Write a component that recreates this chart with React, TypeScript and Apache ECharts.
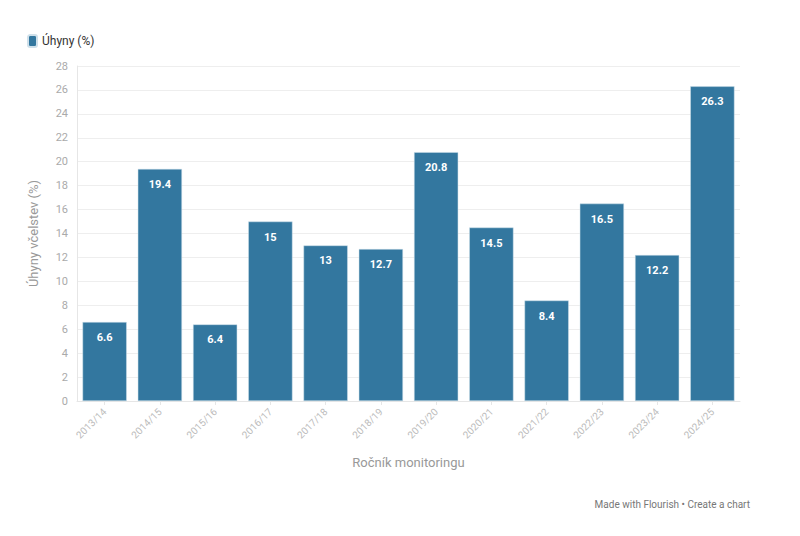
import React, { useEffect, useRef } from "react";
import * as echarts from "echarts";

const categories = ["2013/14", "2014/15", "2015/16", "2016/17", "2017/18", "2018/19", "2019/20", "2020/21", "2021/22", "2022/23", "2023/24", "2024/25"];
const losses = [6.6, 19.4, 6.4, 15, 13, 12.7, 20.8, 14.5, 8.4, 16.5, 12.2, 26.3];
const seriesName = "Úhyny (%)";

export default function App() {
  const ref = useRef<HTMLDivElement>(null);
  useEffect(() => {
    const chart = echarts.init(ref.current!, null, { renderer: "svg" });
    const font = "Roboto, 'Noto Sans', sans-serif";
    chart.setOption({
      animation: false,
      textStyle: { fontFamily: font },
      legend: {
        left: 22,
        top: 29,
        itemWidth: 9,
        itemHeight: 12,
        itemGap: 10,
        textStyle: { fontSize: 12, color: "#333", fontFamily: font },
        icon: "roundRect",
        data: [seriesName],
      },
      grid: { left: 77, right: 60, top: 66, bottom: 135 },
      xAxis: {
        type: "category",
        data: categories,
        name: "Ročník monitoringu",
        nameLocation: "middle",
        nameGap: 55,
        nameTextStyle: { color: "#999", fontSize: 13, fontFamily: font },
        axisLine: { lineStyle: { color: "#e6e6e6" } },
        axisTick: { show: true, alignWithLabel: true, lineStyle: { color: "#e6e6e6" }, length: 4 },
        axisLabel: { rotate: 45, color: "#bbb", fontSize: 10, margin: 9, fontFamily: font },
      },
      yAxis: {
        type: "value",
        min: 0,
        max: 28,
        interval: 2,
        name: "Úhyny včelstev (%)",
        nameLocation: "middle",
        nameGap: 37,
        nameTextStyle: { color: "#999", fontSize: 13, fontFamily: font },
        axisLine: { show: true, lineStyle: { color: "#e6e6e6" } },
        axisTick: { show: false },
        axisLabel: { color: "#aaa", fontSize: 11, margin: 9, fontFamily: font },
        splitLine: { lineStyle: { color: "#eeeeee" } },
      },
      series: [
        {
          name: seriesName,
          type: "bar",
          data: losses,
          barCategoryGap: "20%",
          itemStyle: { color: "#33779f", borderColor: "#cfe0ea", borderWidth: 0.5 },
          label: {
            show: true,
            position: "insideTop",
            distance: 10,
            color: "#fff",
            fontWeight: "bold",
            fontSize: 11,
            fontFamily: font,
          },
        },
      ],
      graphic: [
        {
          type: "text",
          right: 50,
          top: 499,
          style: { text: "Made with Flourish • Create a chart", fill: "#777", fontSize: 10, fontFamily: font },
        },
      ],
    });
    return () => chart.dispose();
  }, []);
  return <div ref={ref} style={{ width: 800, height: 536, position: "absolute", left: 0, top: 0 }} />;
}
